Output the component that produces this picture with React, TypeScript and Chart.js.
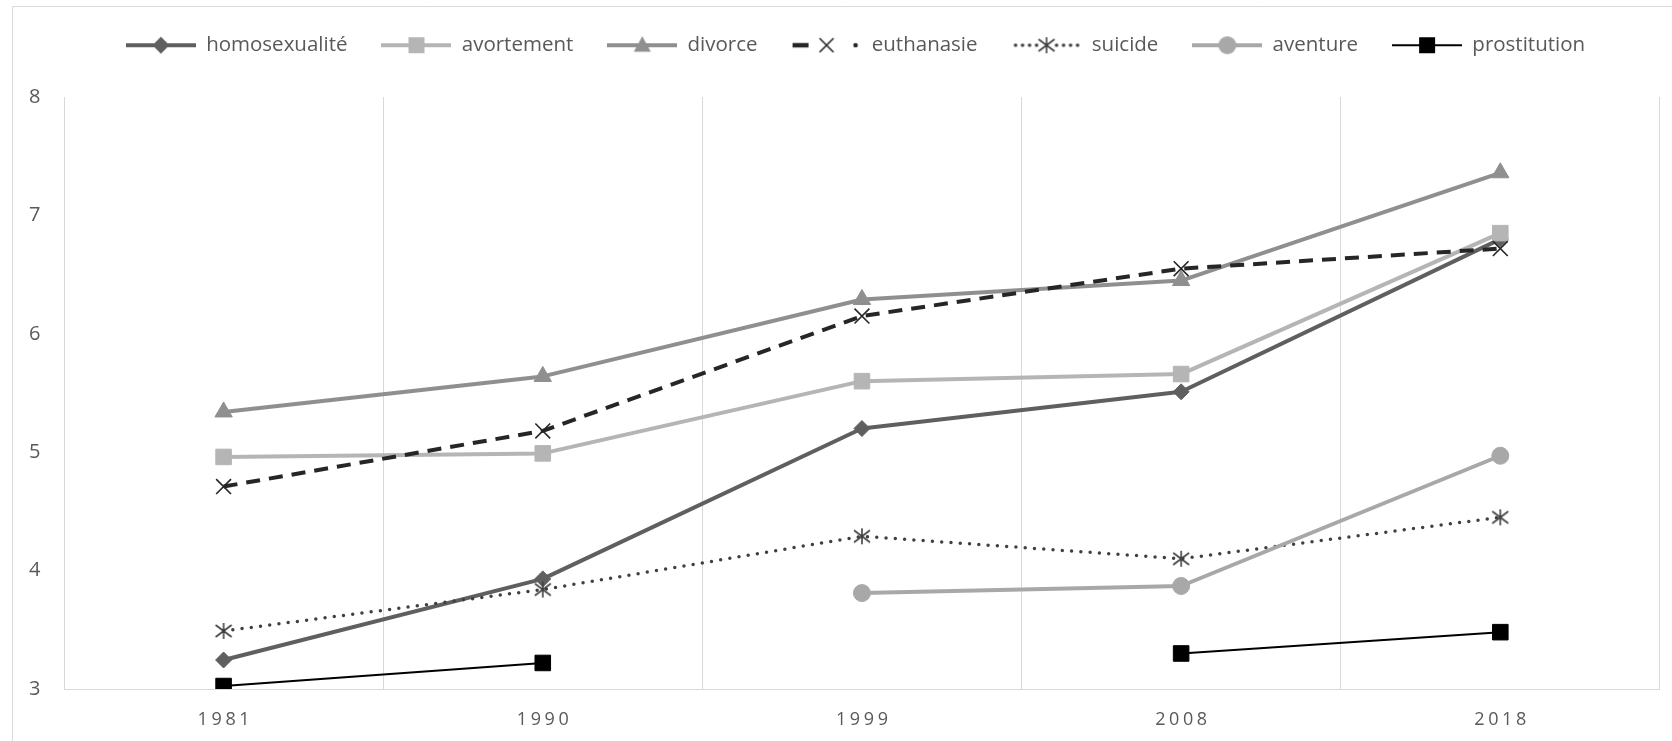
import React, { useEffect, useRef } from 'react';
import { Chart, registerables } from 'chart.js';

Chart.register(...registerables);

const years = ['1981', '1990', '1999', '2008', '2018'];
const seriesNames = ['homosexualité', 'avortement', 'divorce', 'euthanasie', 'suicide', 'aventure', 'prostitution'];
const homosexualite = [3.245, 3.93, 5.2, 5.51, 6.8];
const avortement = [4.96, 4.99, 5.6, 5.66, 6.85];
const divorce = [5.34, 5.64, 6.29, 6.45, 7.36];
const euthanasie = [4.71, 5.18, 6.15, 6.55, 6.72];
const suicide = [3.49, 3.84, 4.29, 4.1, 4.45];
const aventure = [null, null, 3.81, 3.87, 4.97];
const prostitution = [3.025, 3.22, null, 3.3, 3.48];
const yMin = 3;
const yMax = 8;
const yStep = 1;

const FONT = "'Open Sans', sans-serif";
const TEXT = '#595959';
const GRID = '#d9d9d9';

const colors = ['#5f5f5f', '#b5b5b5', '#8f8f8f', '#262626', '#404040', '#a8a8a8', '#000000'];
const markers = ['diamond', 'square', 'triangle', 'x', 'star', 'circle', 'square'];

function drawMarker(ctx: CanvasRenderingContext2D, kind: string, cx: number, cy: number, color: string) {
  ctx.save();
  ctx.fillStyle = color;
  ctx.strokeStyle = color;
  ctx.setLineDash([]);
  switch (kind) {
    case 'diamond':
      ctx.beginPath();
      ctx.moveTo(cx, cy - 8.5);
      ctx.lineTo(cx + 8.5, cy);
      ctx.lineTo(cx, cy + 8.5);
      ctx.lineTo(cx - 8.5, cy);
      ctx.closePath();
      ctx.fill();
      break;
    case 'square':
      ctx.fillRect(cx - 8, cy - 8, 16, 16);
      break;
    case 'triangle':
      ctx.beginPath();
      ctx.moveTo(cx, cy - 9);
      ctx.lineTo(cx + 8.5, cy + 6.5);
      ctx.lineTo(cx - 8.5, cy + 6.5);
      ctx.closePath();
      ctx.fill();
      break;
    case 'x':
      ctx.lineWidth = 1.6;
      ctx.beginPath();
      ctx.moveTo(cx - 7, cy - 7);
      ctx.lineTo(cx + 7, cy + 7);
      ctx.moveTo(cx + 7, cy - 7);
      ctx.lineTo(cx - 7, cy + 7);
      ctx.stroke();
      break;
    case 'star':
      ctx.lineWidth = 1.6;
      ctx.beginPath();
      ctx.moveTo(cx, cy - 8);
      ctx.lineTo(cx, cy + 8);
      ctx.moveTo(cx - 8, cy - 6);
      ctx.lineTo(cx + 8, cy + 6);
      ctx.moveTo(cx - 8, cy + 6);
      ctx.lineTo(cx + 8, cy - 6);
      ctx.stroke();
      break;
    case 'circle':
      ctx.beginPath();
      ctx.arc(cx, cy, 9, 0, Math.PI * 2);
      ctx.fill();
      break;
  }
  ctx.restore();
}

function makeStarImage(color: string) {
  const c = document.createElement('canvas');
  c.width = 20;
  c.height = 20;
  const ctx = c.getContext('2d') as CanvasRenderingContext2D;
  drawMarker(ctx, 'star', 10, 10, color);
  return c;
}

function makeLegendIcon(i: number) {
  const c = document.createElement('canvas');
  c.width = 70;
  c.height = 22;
  const ctx = c.getContext('2d') as CanvasRenderingContext2D;
  const cy = 11;
  const color = colors[i];
  ctx.strokeStyle = color;
  ctx.fillStyle = color;
  if (i === 3) {
    ctx.lineWidth = 4.5;
    ctx.lineCap = 'butt';
    ctx.beginPath();
    ctx.moveTo(1, cy);
    ctx.lineTo(17, cy);
    ctx.stroke();
    ctx.beginPath();
    ctx.arc(64, cy, 2.3, 0, Math.PI * 2);
    ctx.fill();
  } else if (i === 4) {
    [4, 11, 18, 25, 45, 52, 59, 66].forEach((x) => {
      ctx.beginPath();
      ctx.arc(x, cy, 1.8, 0, Math.PI * 2);
      ctx.fill();
    });
  } else {
    ctx.lineWidth = i === 6 ? 2 : 4;
    ctx.beginPath();
    ctx.moveTo(0, cy);
    ctx.lineTo(70, cy);
    ctx.stroke();
  }
  drawMarker(ctx, markers[i], 35, cy, color);
  return c;
}

const frameAndLabels = {
  id: 'frameAndLabels',
  beforeDraw(chart: any) {
    const ctx = chart.ctx as CanvasRenderingContext2D;
    ctx.save();
    ctx.strokeStyle = GRID;
    ctx.lineWidth = 1;
    ctx.beginPath();
    ctx.moveTo(12.5, chart.height);
    ctx.lineTo(12.5, 6.5);
    ctx.lineTo(chart.width, 6.5);
    ctx.stroke();
    ctx.restore();
  },
  afterDraw(chart: any) {
    const ctx = chart.ctx as CanvasRenderingContext2D;
    const x = chart.scales.x;
    const y0 = chart.chartArea.bottom + 30.5;
    const ls = 3.6;
    ctx.save();
    ctx.font = `18px ${FONT}`;
    ctx.fillStyle = TEXT;
    ctx.textBaseline = 'middle';
    ctx.textAlign = 'left';
    years.forEach((lab, i) => {
      const cx = x.getPixelForTick(i);
      const chars = lab.split('');
      const widths = chars.map((ch) => ctx.measureText(ch).width);
      const total = widths.reduce((a, b) => a + b, 0) + ls * (chars.length - 1);
      let px = cx - total / 2;
      chars.forEach((ch, j) => {
        ctx.fillText(ch, px, y0);
        px += widths[j] + ls;
      });
    });
    ctx.restore();
  },
};

export default function App() {
  const ref = useRef<HTMLCanvasElement | null>(null);

  useEffect(() => {
    const canvas = ref.current;
    if (!canvas) return;
    const star = makeStarImage(colors[4]);
    const icons = seriesNames.map((_, i) => makeLegendIcon(i));
    const allData = [homosexualite, avortement, divorce, euthanasie, suicide, aventure, prostitution];

    const base = (i: number) => ({
      label: seriesNames[i],
      data: allData[i],
      borderColor: colors[i],
      backgroundColor: colors[i],
      pointBackgroundColor: colors[i],
      pointBorderColor: colors[i],
      borderWidth: 4,
      borderJoinStyle: 'round' as const,
      tension: 0,
      spanGaps: false,
      order: 6 - i,
      pointBorderWidth: 1,
    });

    const datasets: any[] = [
      { ...base(0), pointStyle: 'rectRot', pointRadius: 8 },
      { ...base(1), pointStyle: 'rect', pointRadius: 11 },
      { ...base(2), pointStyle: 'triangle', pointRadius: 10 },
      {
        ...base(3),
        borderDash: [14, 9],
        pointStyle: 'crossRot',
        pointRadius: 10.5,
        pointBorderWidth: 1.6,
      },
      {
        ...base(4),
        borderWidth: 3.5,
        borderDash: [0, 9.3],
        borderCapStyle: 'round',
        pointStyle: star,
        pointRadius: 9,
      },
      { ...base(5), pointStyle: 'circle', pointRadius: 8.5 },
      { ...base(6), borderWidth: 2, pointStyle: 'rect', pointRadius: 11 },
    ];

    const chart = new Chart(canvas, {
      type: 'line',
      data: { labels: years, datasets },
      plugins: [frameAndLabels],
      options: {
        responsive: false,
        animation: false,
        devicePixelRatio: 1,
        layout: { padding: { left: 49, right: 10, top: 1, bottom: 52 } },
        plugins: {
          tooltip: { enabled: false },
          title: {
            display: true,
            text: '',
            weight: 500,
            position: 'top',
            font: { size: 10 },
            padding: { top: 19.5, bottom: 0 },
          } as any,
          legend: {
            display: true,
            position: 'top',
            labels: {
              usePointStyle: true,
              pointStyleWidth: 70,
              padding: 34,
              color: TEXT,
              font: { family: FONT, size: 20.5 },
              generateLabels: () =>
                seriesNames.map((name, i) => ({
                  text: name,
                  pointStyle: icons[i],
                  fillStyle: 'transparent',
                  strokeStyle: 'transparent',
                  lineWidth: 0,
                  hidden: false,
                  datasetIndex: i,
                  fontColor: TEXT,
                })),
            },
          },
        },
        scales: {
          x: {
            type: 'category',
            offset: true,
            grid: { display: true, offset: true, color: GRID, lineWidth: 1, drawTicks: false },
            border: { display: true, color: GRID, width: 1 },
            ticks: { display: false },
          },
          y: {
            min: yMin,
            max: yMax,
            afterFit: (scale: any) => {
              scale.width = 15;
            },
            grid: { display: false, drawTicks: false },
            border: { display: false },
            ticks: {
              stepSize: yStep,
              mirror: true,
              crossAlign: 'near',
              padding: -35,
              color: TEXT,
              font: { family: FONT, size: 20 },
            },
          },
        },
      },
    });
    return () => chart.destroy();
  }, []);

  return (
    <canvas
      ref={ref}
      width={1672}
      height={741}
      style={{ position: 'fixed', left: 0, top: 0, width: 1672, height: 741, display: 'block', background: '#fff' }}
    />
  );
}
